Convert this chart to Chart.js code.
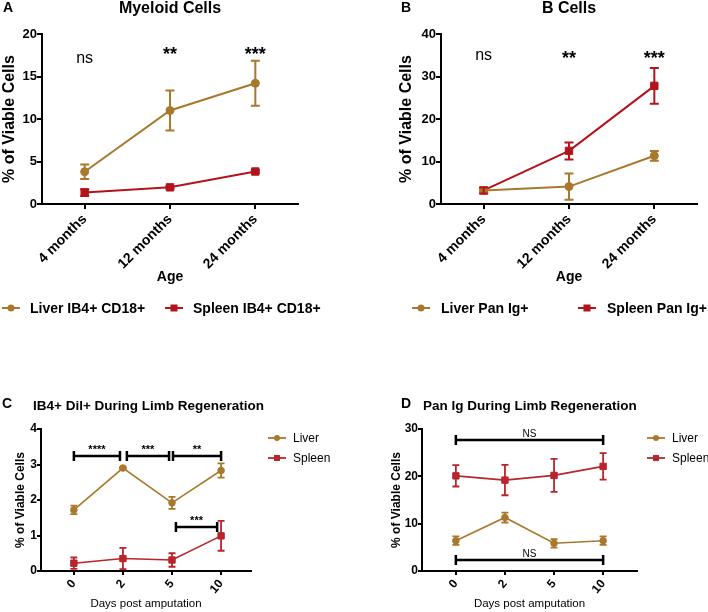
<!DOCTYPE html>
<html>
<head>
<meta charset="utf-8">
<script src="https://cdn.jsdelivr.net/npm/chart.js@4.4.0/dist/chart.umd.min.js"></script>
<style>
  html, body { margin: 0; padding: 0; background: #fff; }
  #wrap { position: relative; width: 708px; height: 612px; overflow: hidden; }
  canvas { position: absolute; }
</style>
</head>
<body>
<div id="wrap">
  <canvas id="chartA" width="354" height="330" style="left:0;top:0"></canvas>
  <canvas id="chartB" width="354" height="330" style="left:354px;top:0"></canvas>
  <canvas id="chartC" width="354" height="282" style="left:0;top:330px"></canvas>
  <canvas id="chartD" width="354" height="282" style="left:354px;top:330px"></canvas>
</div>
<script>
// ---- data ----
const ageLabels = ['4 months', '12 months', '24 months'];

const myeloidLiver = [3.8, 11.0, 14.2];
const myeloidLiverErr = [0.85, 2.35, 2.65];
const myeloidSpleen = [1.35, 1.96, 3.82];
const myeloidSpleenErr = [0.4, 0.15, 0.15];
const myeloidSig = ['ns', '**', '***'];
const myeloidSigY = [16.6, 16.9, 16.9];

const bLiver = [3.2, 4.1, 11.35];
const bLiverErr = [0.6, 3.1, 1.15];
const bSpleen = [3.2, 12.5, 27.8];
const bSpleenErr = [0.7, 2.0, 4.2];
const bSig = ['ns', '**', '***'];
const bSigY = [33.9, 32.9, 32.9];

const dayLabels = ['0', '2', '5', '10'];

const dilLiver = [1.72, 2.9, 1.92, 2.83];
const dilLiverErr = [0.12, 0.03, 0.17, 0.2];
const dilSpleen = [0.22, 0.35, 0.31, 0.99];
const dilSpleenErr = [0.16, 0.3, 0.19, 0.42];
// [from, to, y, label]
const dilBrackets = [[0, 0.94, 3.24, '****'], [1.08, 1.94, 3.24, '***'], [2.02, 3, 3.24, '**'], [2.08, 2.92, 1.24, '***']];

const panLiver = [6.4, 11.3, 5.85, 6.4];
const panLiverErr = [0.9, 1.05, 0.9, 0.9];
const panSpleen = [20.1, 19.2, 20.2, 22.1];
const panSpleenErr = [2.25, 3.2, 3.5, 2.8];
const panBrackets = [[0, 3, 27.7, 'NS'], [0, 3, 2.3, 'NS']];

// ---- styling ----
const LIVER = '#a8782c';
const SPLEEN = '#b3141c';
const SPLEEN2 = '#b8252d';
const FONT = '"Liberation Sans", Arial, Helvetica, sans-serif';
Chart.defaults.font.family = FONT;
Chart.defaults.color = '#000';
Chart.defaults.animation = false;

function series(label, data, errors, color, style, r, lw) {
  return {
    label, data, errors,
    borderColor: color, backgroundColor: color,
    pointBackgroundColor: color, pointBorderColor: color,
    pointStyle: style, pointRadius: r, pointHoverRadius: r,
    borderWidth: lw, pointBorderWidth: 1, tension: 0, fill: false
  };
}

function xy(arr) {
  return arr.map((v, i) => ({ x: i, y: v }));
}

function drawMarker(ctx, x, y, color, style, size, lw) {
  ctx.strokeStyle = color;
  ctx.fillStyle = color;
  ctx.lineWidth = lw;
  ctx.beginPath();
  ctx.moveTo(x - 9, y);
  ctx.lineTo(x + 9, y);
  ctx.stroke();
  if (style === 'circle') {
    ctx.beginPath();
    ctx.arc(x, y, size / 2, 0, Math.PI * 2);
    ctx.fill();
  } else {
    ctx.fillRect(x - size / 2, y - size / 2, size, size);
  }
}

// error bars, brackets, titles and legends
function decor(spec) {
  return {
    id: 'decor',
    afterDatasetsDraw(chart) {
      const ctx = chart.ctx;
      const xs = chart.scales.x, ys = chart.scales.y;
      ctx.save();
      chart.data.datasets.forEach((ds, i) => {
        const meta = chart.getDatasetMeta(i);
        ctx.strokeStyle = ds.borderColor;
        ctx.lineWidth = spec.errWidth;
        meta.data.forEach((pt, j) => {
          const d = ds.data[j];
          const v = typeof d === 'object' ? d.y : d;
          const e = ds.errors[j];
          const t = ys.getPixelForValue(v + e), b = ys.getPixelForValue(v - e);
          ctx.beginPath();
          ctx.moveTo(pt.x, t); ctx.lineTo(pt.x, b);
          ctx.moveTo(pt.x - spec.cap, t); ctx.lineTo(pt.x + spec.cap, t);
          ctx.moveTo(pt.x - spec.cap, b); ctx.lineTo(pt.x + spec.cap, b);
          ctx.stroke();
        });
      });

      (spec.brackets || []).forEach(([a, b, y, label]) => {
        const x1 = xs.getPixelForValue(a), x2 = xs.getPixelForValue(b);
        const py = ys.getPixelForValue(y);
        ctx.strokeStyle = '#000';
        ctx.lineWidth = 2.5;
        ctx.beginPath();
        ctx.moveTo(x1, py); ctx.lineTo(x2, py);
        ctx.moveTo(x1, py - 5); ctx.lineTo(x1, py + 5);
        ctx.moveTo(x2, py - 5); ctx.lineTo(x2, py + 5);
        ctx.stroke();
        ctx.fillStyle = '#000';
        ctx.textAlign = 'center';
        ctx.textBaseline = 'alphabetic';
        ctx.font = label === 'NS' ? `10px ${FONT}` : `bold 11px ${FONT}`;
        ctx.fillText(label, (x1 + x2) / 2, py - 3);
      });

      if (spec.sig) {
        ctx.fillStyle = '#000';
        ctx.textAlign = 'center';
        ctx.textBaseline = 'alphabetic';
        spec.sig.forEach((s, j) => {
          ctx.font = s === 'ns' ? `16px ${FONT}` : `bold 18px ${FONT}`;
          ctx.fillText(s, xs.getPixelForValue(j), ys.getPixelForValue(spec.sigY[j]));
        });
      }
      ctx.restore();
    },
    afterDraw(chart) {
      const ctx = chart.ctx;
      ctx.save();
      ctx.fillStyle = '#000';
      ctx.textBaseline = 'middle';
      ctx.textAlign = 'left';
      ctx.font = spec.letter.font;
      ctx.fillText(spec.letter.text, spec.letter.x, spec.letter.y);
      ctx.font = spec.title.font;
      ctx.textAlign = spec.title.align;
      ctx.fillText(spec.title.text, spec.title.x, spec.title.y);

      spec.legend.forEach(it => {
        drawMarker(ctx, it.x, it.y, it.color, it.style, it.size, spec.legendLine);
        ctx.fillStyle = '#000';
        ctx.textAlign = 'left';
        ctx.textBaseline = 'middle';
        ctx.font = spec.legendFont;
        ctx.fillText(it.text, it.x + spec.legendGap, it.y + 1);
      });
      ctx.restore();
    }
  };
}

function axisCommon(tickLen, lw) {
  return {
    border: { display: true, color: '#000', width: lw },
    grid: { display: true, drawOnChartArea: false, drawTicks: true, tickLength: tickLen, color: '#000', lineWidth: lw }
  };
}

function ageChart(id, liver, liverErr, spleen, spleenErr, yMax, yStep, pad, yWidth, spec) {
  return new Chart(document.getElementById(id), {
    type: 'line',
    data: {
      labels: ageLabels,
      datasets: [
        series('Liver', liver, liverErr, LIVER, 'circle', 4, 2),
        series('Spleen', spleen, spleenErr, SPLEEN, 'rect', 5.2, 2)
      ]
    },
    options: {
      responsive: false,
      layout: { padding: pad },
      plugins: { legend: { display: false }, tooltip: { enabled: false } },
      scales: {
        x: {
          type: 'category', offset: true,
          ...axisCommon(5, 2),
          ticks: { color: '#000', font: { size: 14, weight: 'bold' }, minRotation: 45, maxRotation: 45, padding: 2, autoSkip: false },
          title: { display: true, text: 'Age', color: '#000', font: { size: 14, weight: 'bold' }, padding: 0 },
          afterFit: s => { s.height = 82; }
        },
        y: {
          min: 0, max: yMax,
          ...axisCommon(5, 2),
          ticks: { stepSize: yStep, color: '#000', font: { size: 13, weight: 'bold' }, padding: 0 },
          title: { display: true, text: '% of Viable Cells', color: '#000', font: { size: 16, weight: 'bold' }, padding: 0 },
          afterFit: s => { s.width = yWidth; }
        }
      }
    },
    plugins: [decor(spec)]
  });
}

function dayChart(id, liver, liverErr, spleen, spleenErr, yMax, yStep, xMin, xMax, pad, yWidth, spec) {
  return new Chart(document.getElementById(id), {
    type: 'line',
    data: {
      datasets: [
        series('Liver', xy(liver), liverErr, LIVER, 'circle', 3.3, 1.6),
        series('Spleen', xy(spleen), spleenErr, SPLEEN2, 'rect', 4.5, 1.6)
      ]
    },
    options: {
      responsive: false,
      layout: { padding: pad },
      plugins: { legend: { display: false }, tooltip: { enabled: false } },
      scales: {
        x: {
          type: 'linear', min: xMin, max: xMax,
          ...axisCommon(4, 2),
          afterBuildTicks: s => { s.ticks = dayLabels.map((_, i) => ({ value: i })); },
          ticks: { color: '#000', font: { size: 12, weight: 'bold' }, minRotation: 50, maxRotation: 50, padding: 2, autoSkip: false,
                   callback: v => dayLabels[v] },
          title: { display: true, text: 'Days post amputation', color: '#000', font: { size: 11.5 }, padding: 0 },
          afterFit: s => { s.height = 40; }
        },
        y: {
          min: 0, max: yMax,
          ...axisCommon(4, 2),
          ticks: { stepSize: yStep, color: '#000', font: { size: 12, weight: 'bold' }, padding: 0 },
          title: { display: true, text: '% of Viable Cells', color: '#000', font: { size: 12, weight: 'bold' }, padding: 0 },
          afterFit: s => { s.width = yWidth; }
        }
      }
    },
    plugins: [decor(spec)]
  });
}

ageChart('chartA', myeloidLiver, myeloidLiverErr, myeloidSpleen, myeloidSpleenErr, 20, 5,
  { left: 0, top: 34, right: 56, bottom: 44 }, 42, {
    errWidth: 2, cap: 4.5, sig: myeloidSig, sigY: myeloidSigY,
    letter: { text: 'A', x: 3, y: 8, font: `bold 14px ${FONT}` },
    title: { text: 'Myeloid Cells', x: 170, y: 9, align: 'center', font: `bold 16px ${FONT}` },
    legendFont: `bold 14px ${FONT}`, legendGap: 19, legendLine: 2,
    legend: [
      { x: 11, y: 308, text: 'Liver IB4+ CD18+', color: LIVER, style: 'circle', size: 7 },
      { x: 174, y: 308, text: 'Spleen IB4+ CD18+', color: SPLEEN, style: 'rect', size: 7 }
    ]
  });

ageChart('chartB', bLiver, bLiverErr, bSpleen, bSpleenErr, 40, 10,
  { left: 43, top: 34, right: 11, bottom: 44 }, 44, {
    errWidth: 2, cap: 4.5, sig: bSig, sigY: bSigY,
    letter: { text: 'B', x: 47, y: 8, font: `bold 14px ${FONT}` },
    title: { text: 'B Cells', x: 215, y: 9, align: 'center', font: `bold 16px ${FONT}` },
    legendFont: `bold 14px ${FONT}`, legendGap: 20, legendLine: 2,
    legend: [
      { x: 67, y: 308, text: 'Liver Pan Ig+', color: LIVER, style: 'circle', size: 7 },
      { x: 233, y: 308, text: 'Spleen Pan Ig+', color: SPLEEN, style: 'rect', size: 7 }
    ]
  });

dayChart('chartC', dilLiver, dilLiverErr, dilSpleen, dilSpleenErr, 4, 1, -0.67, 3.61,
  { left: 13, top: 99, right: 103, bottom: 1 }, 28, {
    errWidth: 1.8, cap: 3.5, brackets: dilBrackets,
    letter: { text: 'C', x: 2, y: 74, font: `bold 14px ${FONT}` },
    title: { text: 'IB4+ Dil+ During Limb Regeneration', x: 33, y: 76, align: 'left', font: `bold 13.5px ${FONT}` },
    legendFont: `12px ${FONT}`, legendGap: 16, legendLine: 1.8,
    legend: [
      { x: 277, y: 108, text: 'Liver', color: LIVER, style: 'circle', size: 6 },
      { x: 277, y: 128, text: 'Spleen', color: SPLEEN2, style: 'rect', size: 6 }
    ]
  });

dayChart('chartD', panLiver, panLiverErr, panSpleen, panSpleenErr, 30, 10, -0.69, 3.69,
  { left: 35, top: 99, right: 71, bottom: 1 }, 33, {
    errWidth: 1.8, cap: 3.5, brackets: panBrackets,
    letter: { text: 'D', x: 47, y: 74, font: `bold 14px ${FONT}` },
    title: { text: 'Pan Ig During Limb Regeneration', x: 69, y: 76, align: 'left', font: `bold 13.5px ${FONT}` },
    legendFont: `12px ${FONT}`, legendGap: 16, legendLine: 1.8,
    legend: [
      { x: 302, y: 108, text: 'Liver', color: LIVER, style: 'circle', size: 6 },
      { x: 302, y: 128, text: 'Spleen', color: SPLEEN2, style: 'rect', size: 6 }
    ]
  });
</script>
</body>
</html>
